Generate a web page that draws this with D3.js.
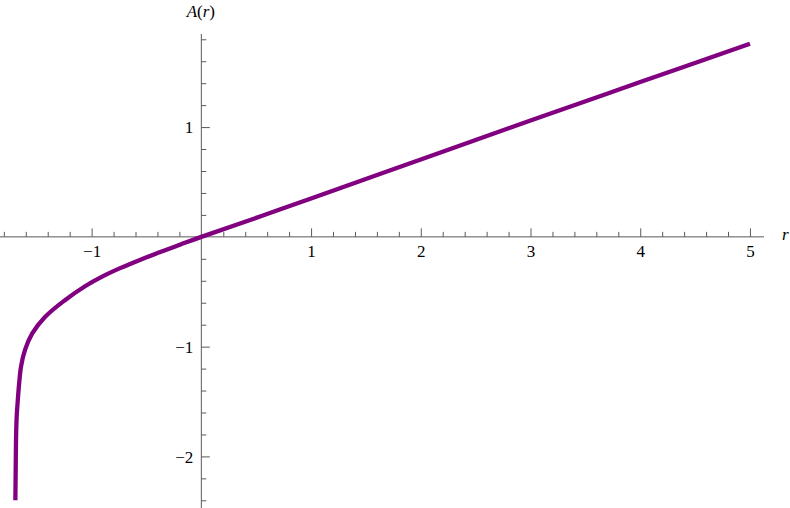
<!DOCTYPE html>
<html>
<head>
<meta charset="utf-8">
<script src="https://cdn.jsdelivr.net/npm/d3@7"></script>
<style>
  body { margin: 0; background: #fff; }
  svg { display: block; }
  svg text { font-family: "Liberation Serif", "Times New Roman", serif; font-size: 17px; }
</style>
</head>
<body>
<script>
// values
const rValues = [-1.695, -1.692, -1.689, -1.683, -1.673, -1.661, -1.643, -1.607, -1.541, -1.425,
                 -1.243, -1.060, -0.900, -0.740, -0.560, -0.380, -0.190, 0, 0.535, 1, 2, 3, 4, 5];
const aValues = [-2.40, -2.12, -1.85, -1.64, -1.49, -1.34, -1.18, -1.03, -0.88, -0.73,
                 -0.577, -0.45, -0.36, -0.285, -0.21, -0.141, -0.070, 0, 0.185, 0.35, 0.705, 1.06, 1.41, 1.76];
const xMajorTicks = [-1, 1, 2, 3, 4, 5];
const yMajorTicks = [-2, -1, 1];

const canvWidth = 790, canvHeight = 508;
const svg = d3.select("body").append("svg")
    .attr("width", canvWidth)
    .attr("height", canvHeight);

// scales: pixel edges of the plot
const xScale = d3.scaleLinear().domain([-1.835, 5.128]).range([0, 764]);
const yScale = d3.scaleLinear().domain([1.848, -2.47]).range([34, 508]);

const axisColor = "#5a5a5a";
const fmt = d => (d < 0 ? "\u2212" + Math.abs(d) : String(d));

// minor ticks every 0.2
const xMinor = d3.range(-9, 26).map(i => i / 5).filter(v => Math.abs(v - Math.round(v)) > 1e-9);
const yMinor = d3.range(-12, 10).map(i => i / 5).filter(v => Math.abs(v - Math.round(v)) > 1e-9);

const y0 = yScale(0), x0 = xScale(0);

// x axis
const gx = svg.append("g").attr("transform", "translate(0," + y0 + ")");
gx.append("line").attr("x1", 0).attr("x2", 764).attr("stroke", axisColor);
gx.append("g")
    .call(d3.axisBottom(xScale).tickValues(xMinor).tickSize(-5).tickFormat(""))
    .call(g => g.select(".domain").remove());
gx.append("g")
    .call(d3.axisBottom(xScale).tickValues(xMajorTicks).tickSize(-8.5).tickFormat(fmt))
    .call(g => g.select(".domain").remove())
    .call(g => g.selectAll("text").attr("y", 20.5).attr("dy", null));
gx.selectAll("g").attr("font-family", null).attr("font-size", null);
gx.selectAll("line").attr("stroke", axisColor);
gx.selectAll("text").attr("fill", "#000");

// y axis
const gy = svg.append("g").attr("transform", "translate(" + x0 + ",0)");
gy.append("line").attr("y1", 34).attr("y2", 508).attr("stroke", axisColor);
gy.append("g")
    .call(d3.axisLeft(yScale).tickValues(yMinor).tickSize(-5).tickFormat(""))
    .call(g => g.select(".domain").remove());
gy.append("g")
    .call(d3.axisLeft(yScale).tickValues(yMajorTicks).tickSize(-8.5).tickFormat(fmt))
    .call(g => g.select(".domain").remove())
    .call(g => g.selectAll("text").attr("x", -8).attr("dy", "0.34em"));
gy.selectAll("g").attr("font-family", null).attr("font-size", null);
gy.selectAll("line").attr("stroke", axisColor);
gy.selectAll("text").attr("fill", "#000");

// axis labels
const yLab = svg.append("text")
    .attr("x", x0 - 0.5)
    .attr("y", 17)
    .attr("text-anchor", "middle");
yLab.append("tspan").attr("font-style", "italic").text("A");
yLab.append("tspan").text("(");
yLab.append("tspan").attr("font-style", "italic").text("r");
yLab.append("tspan").text(")");

svg.append("text")
    .attr("x", 782)
    .attr("y", 240)
    .attr("font-style", "italic")
    .text("r");

// curve
const data = rValues.map((r, i) => ({r: r, a: aValues[i]}));
const line = d3.line()
    .x(d => xScale(d.r))
    .y(d => yScale(d.a))
    .curve(d3.curveCatmullRom.alpha(0.5));

svg.append("path")
    .datum(data)
    .attr("d", line)
    .attr("fill", "none")
    .attr("stroke", "#800080")
    .attr("stroke-width", 4.3);
</script>
</body>
</html>
